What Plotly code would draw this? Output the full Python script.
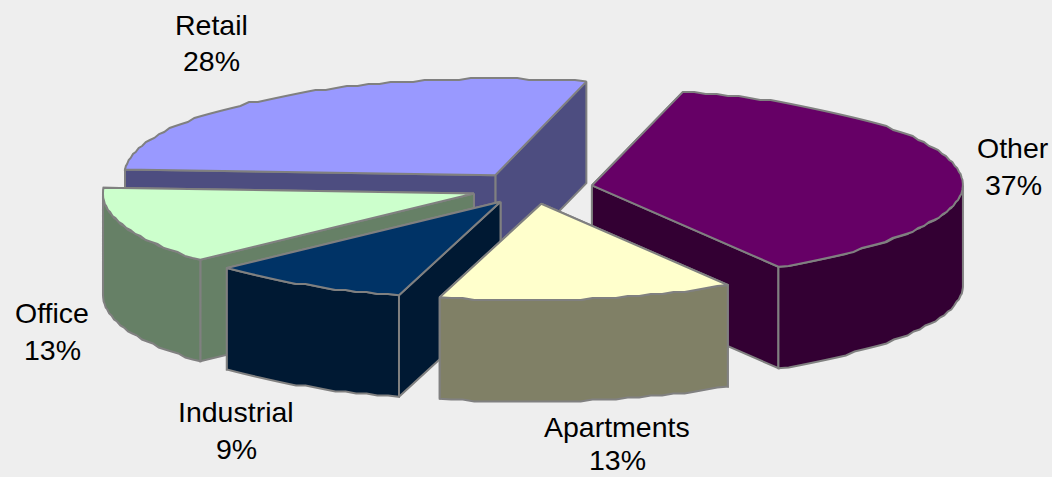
import numpy as np
import plotly.graph_objects as go

# Chart data, listed counter-clockwise from the first slice
categories = ["Retail", "Office", "Industrial", "Apartments", "Other"]
shares = [28, 13, 9, 13, 37]
top_colors = ["#9999ff", "#ccffcc", "#003366", "#ffffcc", "#660066"]
side_colors = ["#4d4d80", "#668066", "#001933", "#808066", "#330033"]

# Slices further back are painted first so nearer ones overlap them
paint_order = ["Retail", "Office", "Industrial", "Other", "Apartments"]

# Projection of the tilted pie onto the page, in pixels
WIDTH, HEIGHT = 1052, 477
CX, CY = 531.5, 188
RX, RY = 371, 96.5
LEAN, LEAN_RIGHT = 13, 8
DEPTH = 101.5
EXPLODE = 0.165
START_DEG = 75.8
BACKGROUND = "#eeeeee"
EDGE = "#808080"
FONT = dict(family="Liberation Sans, Arial, sans-serif", size=28.5, color="#000000")

# Centre of each label's two lines on the page: x, first line y, second line y
label_xy = {
    "Retail": (211, 25, 61),
    "Office": (52, 313, 350),
    "Industrial": (236, 412, 449),
    "Apartments": (617, 427, 460),
    "Other": (1013, 148, 185),
}


def project(angle_deg):
    """Page offset of a rim point; the near half of the pie leans slightly to the left."""
    a = np.radians(angle_deg)
    near = np.clip(-np.sin(a), 0, None)
    lean = near ** 1.5 * (LEAN + LEAN_RIGHT * np.cos(a))
    return RX * np.cos(a) - lean, -RY * np.sin(a)


def rim(a0, a1, ox, oy):
    """Arc between two angles, snapped to a coarse grid like a low-res plot driver."""
    count = max(2, int(abs(a1 - a0) / 1.8) + 1)
    angles = np.linspace(a0, a1, count)
    dx, dy = project(angles)
    xs, ys = ox + dx, oy + dy
    ys[1:-1] = np.round(ys[1:-1] / 2) * 2
    return xs, ys


def polygon(xs, ys, fill, width=2):
    return go.Scatter(
        x=np.r_[xs, xs[0]],
        y=np.r_[ys, ys[0]],
        mode="lines",
        fill="toself",
        fillcolor=fill,
        line=dict(color=EDGE, width=width, simplify=False),
        hoverinfo="skip",
        showlegend=False,
    )


# Angular span of every slice from its share of the total
total = sum(shares)
spans = {}
angle = START_DEG
for name, share in zip(categories, shares):
    sweep = 360 * share / total
    spans[name] = (angle, angle + sweep)
    angle += sweep

fig = go.Figure()
for name in paint_order:
    i = categories.index(name)
    a0, a1 = spans[name]
    mid = (a0 + a1) / 2
    a = np.radians(mid)
    ox, oy = CX + EXPLODE * RX * np.cos(a), CY - EXPLODE * RY * np.sin(a)

    # Flat side walls along both radial cuts, the one further back first
    for cut in sorted((a0, a1), key=lambda c: -np.sin(np.radians(c))):
        dx, dy = project(cut)
        fig.add_trace(polygon(
            np.array([ox, ox + dx, ox + dx, ox]),
            np.array([oy, oy + dy, oy + dy + DEPTH, oy + DEPTH]),
            side_colors[i],
        ))

    # Curved outer wall, only on the part of the rim facing the viewer
    lo, hi = max(a0, 180), min(a1, 360)
    if hi > lo:
        xs, ys = rim(lo, hi, ox, oy)
        fig.add_trace(polygon(np.r_[xs, xs[::-1]], np.r_[ys, ys[::-1] + DEPTH], side_colors[i]))

    # Top face
    xs, ys = rim(a0, a1, ox, oy)
    fig.add_trace(polygon(np.r_[ox, xs], np.r_[oy, ys], top_colors[i]))

annotations = []
for name, share in zip(categories, shares):
    x, y1, y2 = label_xy[name]
    for y, text in ((y1, name), (y2, f"{share}%")):
        annotations.append(dict(
            x=x, y=y, text=text, showarrow=False,
            xanchor="center", yanchor="middle", font=FONT,
        ))

fig.update_layout(
    width=WIDTH,
    height=HEIGHT,
    margin=dict(l=0, r=0, t=0, b=0),
    paper_bgcolor=BACKGROUND,
    plot_bgcolor=BACKGROUND,
    xaxis=dict(range=[0, WIDTH], visible=False, fixedrange=True),
    yaxis=dict(range=[HEIGHT, 0], visible=False, fixedrange=True),
    annotations=annotations,
    showlegend=False,
)

fig.write_html("out.html", config={"displayModeBar": False})
